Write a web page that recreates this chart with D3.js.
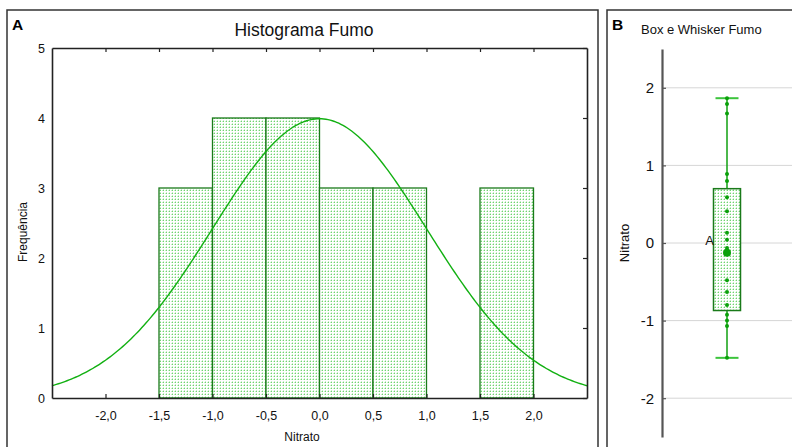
<!DOCTYPE html>
<html>
<head>
<meta charset="utf-8">
<script src="https://cdn.jsdelivr.net/npm/d3@7"></script>
<style>
  html, body { margin: 0; padding: 0; background: #fff; }
  svg { display: block; font-family: Arial, "Liberation Sans", sans-serif; }
</style>
</head>
<body>
<svg id="chart" width="792" height="447"></svg>
<script>
// Histogram of Nitrato (Fumo): bin starts and counts, bin width 0.5
const binStarts = [-1.5, -1.0, -0.5, 0.0, 0.5, 1.0, 1.5];
const binCounts = [3, 4, 4, 3, 3, 0, 3];
const binWidth = 0.5;
const xTicks = [-2.0, -1.5, -1.0, -0.5, 0.0, 0.5, 1.0, 1.5, 2.0];
const yTicksA = [0, 1, 2, 3, 4, 5];

// Fitted normal curve parameters
const fitMean = 0.0;
const fitSd = 1.0;
const sampleN = 20;

// Box and whisker summary (min, Q1, median, Q3, max) and raw observations
const boxStats = [-1.48, -0.87, -0.125, 0.70, 1.866];
const boxPoints = [1.866, 1.79, 1.67, 0.89, 0.80, 0.59, 0.41, 0.133, 0.043, -0.065,
                   -0.48, -0.63, -0.80, -0.925, -1.0, -1.07, -1.48];
const yTicksB = [-2, -1, 0, 1, 2];

const svg = d3.select("#chart");
const defs = svg.append("defs");

// dotted light-green fill
const pat = defs.append("pattern")
  .attr("id", "dots").attr("patternUnits", "userSpaceOnUse")
  .attr("width", 3).attr("height", 3);
pat.append("rect").attr("width", 3).attr("height", 3).attr("fill", "#ffffff");
pat.append("rect").attr("x", 1).attr("y", 1).attr("width", 1).attr("height", 1).attr("fill", "#6fd46f");
pat.append("rect").attr("x", 0).attr("y", 1).attr("width", 1).attr("height", 1).attr("fill", "#c8eec8");
pat.append("rect").attr("x", 1).attr("y", 0).attr("width", 1).attr("height", 1).attr("fill", "#c8eec8");

// ---------- Panel frames ----------
svg.append("rect").attr("x", 7).attr("y", 10).attr("width", 591).attr("height", 460)
  .attr("fill", "none").attr("stroke", "#333").attr("stroke-width", 1.5);
svg.append("rect").attr("x", 607).attr("y", 10).attr("width", 200).attr("height", 460)
  .attr("fill", "none").attr("stroke", "#333").attr("stroke-width", 1.5);

// ---------- Panel A: histogram ----------
const xA = d3.scaleLinear().domain([-2.5, 2.5]).range([52, 587]);
const yA = d3.scaleLinear().domain([0, 5]).range([398, 48]);

svg.append("text").attr("x", 12).attr("y", 30)
  .attr("font-size", 15.5).attr("font-weight", "bold").text("A");
svg.append("text").attr("x", 304).attr("y", 36).attr("text-anchor", "middle")
  .attr("font-size", 17.5).attr("fill", "#111").text("Histograma Fumo");

const bars = binStarts.map((s, i) => ({ x0: s, x1: s + binWidth, n: binCounts[i] }))
  .filter(d => d.n > 0);
svg.append("g").selectAll("rect").data(bars).join("rect")
  .attr("x", d => xA(d.x0)).attr("y", d => yA(d.n))
  .attr("width", d => xA(d.x1) - xA(d.x0)).attr("height", d => yA(0) - yA(d.n))
  .attr("fill", "url(#dots)").attr("stroke", "#1a7a1a").attr("stroke-width", 1.3);

// normal curve scaled to expected frequencies
const pdf = x => Math.exp(-0.5 * ((x - fitMean) / fitSd) ** 2) / (fitSd * Math.sqrt(2 * Math.PI));
const curveX = d3.range(-2.5, 2.5001, 0.02);
svg.append("path")
  .datum(curveX)
  .attr("d", d3.line().x(d => xA(d)).y(d => yA(sampleN * binWidth * pdf(d))))
  .attr("fill", "none").attr("stroke", "#12b012").attr("stroke-width", 1.4);

// axes (ticks point inward)
const axA = svg.append("g").attr("font-size", 12.5).attr("fill", "#111");
axA.append("g").attr("transform", `translate(0,${yA(0)})`)
  .call(d3.axisBottom(xA).tickValues(xTicks).tickSizeInner(-4).tickSizeOuter(0)
    .tickFormat(d => d3.format(".1f")(d).replace(".", ",").replace("−", "-")))
  .call(g => g.selectAll("text").attr("y", 13).attr("dy", "0.71em"));
axA.append("g").attr("transform", `translate(0,${yA(5)})`)
  .call(d3.axisTop(xA).tickValues(xTicks).tickSizeInner(-4).tickSizeOuter(0).tickFormat(""));
axA.append("g").attr("transform", `translate(${xA(-2.5)},0)`)
  .call(d3.axisLeft(yA).tickValues(yTicksA).tickSizeInner(0).tickSizeOuter(0).tickPadding(7)
    .tickFormat(d3.format("d")));
axA.append("g").attr("transform", `translate(${xA(2.5)},0)`)
  .call(d3.axisRight(yA).tickValues(yTicksA).tickSizeInner(-4).tickSizeOuter(0).tickFormat(""));
axA.selectAll(".domain").attr("stroke", "#222").attr("stroke-width", 1.6);
axA.selectAll(".tick line").attr("stroke", "#222").attr("stroke-width", 1.2);
axA.selectAll("text").attr("font-family", "Arial, 'Liberation Sans', sans-serif").attr("font-size", 12.5).attr("fill", "#111");

svg.append("text").attr("x", 302).attr("y", 441).attr("text-anchor", "middle")
  .attr("font-size", 12).attr("fill", "#111").text("Nitrato");
svg.append("text").attr("transform", "translate(27,232) rotate(-90)").attr("text-anchor", "middle")
  .attr("font-size", 12).attr("fill", "#111").text("Frequência");

// ---------- Panel B: box and whisker ----------
const yB = d3.scaleLinear().domain([-2.5, 2.5]).range([437, 49]);
const axisXB = 662, cx = 727, boxW = 27, capW = 23;

svg.append("text").attr("x", 612).attr("y", 30)
  .attr("font-size", 15.5).attr("font-weight", "bold").text("B");
svg.append("text").attr("x", 641).attr("y", 34)
  .attr("font-size", 13).attr("fill", "#111").text("Box e Whisker Fumo");

// gridlines
svg.append("g").selectAll("line").data(yTicksB).join("line")
  .attr("x1", axisXB).attr("x2", 800).attr("y1", d => yB(d)).attr("y2", d => yB(d))
  .attr("stroke", "#d6d6d6").attr("stroke-width", 1);

const axB = svg.append("g").attr("transform", `translate(${axisXB},0)`)
  .call(d3.axisLeft(yB).tickValues(yTicksB).tickSizeInner(-4).tickSizeOuter(0).tickPadding(8)
    .tickFormat(d => String(d)));
axB.select(".domain").attr("stroke", "#555").attr("stroke-width", 2.2);
axB.selectAll(".tick line").attr("stroke", "#555").attr("stroke-width", 1.2);
axB.selectAll("text").attr("font-family", "Arial, 'Liberation Sans', sans-serif").attr("font-size", 15).attr("fill", "#111");

svg.append("text").attr("transform", "translate(629,243) rotate(-90)").attr("text-anchor", "middle")
  .attr("font-size", 13).attr("fill", "#111").text("Nitrato");

const [bMin, bQ1, bMed, bQ3, bMax] = boxStats;
// whisker
svg.append("line").attr("x1", cx).attr("x2", cx).attr("y1", yB(bMax)).attr("y2", yB(bMin))
  .attr("stroke", "#10a010").attr("stroke-width", 1.5);
svg.append("g").selectAll("line").data([bMin, bMax]).join("line")
  .attr("x1", cx - capW / 2).attr("x2", cx + capW / 2)
  .attr("y1", d => yB(d)).attr("y2", d => yB(d))
  .attr("stroke", "#3cc43c").attr("stroke-width", 2);
// box
svg.append("rect").attr("x", cx - boxW / 2).attr("y", yB(bQ3))
  .attr("width", boxW).attr("height", yB(bQ1) - yB(bQ3))
  .attr("fill", "url(#dots)").attr("stroke", "#1a7a1a").attr("stroke-width", 1.5);
// observations
svg.append("g").selectAll("circle").data(boxPoints).join("circle")
  .attr("cx", cx).attr("cy", d => yB(d)).attr("r", 2)
  .attr("fill", "#0aa00a");
// median marker and label
svg.append("circle").attr("cx", cx).attr("cy", yB(bMed)).attr("r", 4).attr("fill", "#0aa00a");
svg.append("text").attr("x", 714).attr("y", 245).attr("text-anchor", "end")
  .attr("font-size", 13).attr("fill", "#111").text("A");
</script>
</body>
</html>
